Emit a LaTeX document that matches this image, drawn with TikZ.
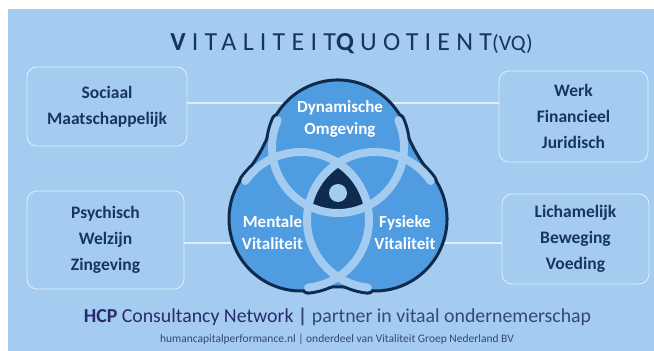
\documentclass[tikz,border=0pt]{standalone}
\usepackage{fontspec}
\setmainfont{Carlito}
\newfontfamily\titlefont[LetterSpace=24]{Carlito}
\definecolor{bgblue}{HTML}{A3CCF0}
\definecolor{lobe}{HTML}{4F9CE1}
\definecolor{ring}{HTML}{A3CCF0}
\definecolor{navy}{HTML}{0E2A4C}
\definecolor{txt}{HTML}{183460}
\definecolor{edge}{HTML}{DDEDFB}
\definecolor{hcp}{HTML}{2A2A6C}
\definecolor{slate}{HTML}{34496F}
\tikzset{
  sidebox/.style={draw=edge, line width=0.9pt, rounded corners=10pt, align=center,
    inner sep=0pt, text=txt, font=\fontsize{17.5}{26}\selectfont\bfseries},
  conn/.style={draw=edge, line width=1.1pt},
  bump/.style={draw=navy, line width=14pt, line cap=round},
  lightarc/.style={draw=ring, line width=8pt, line cap=round},
  vlabel/.style={text=white, align=center, inner sep=0pt, font=\fontsize{17}{22}\selectfont\bfseries}
}
\begin{document}
\begin{tikzpicture}[x=1pt, y=-1pt]
\useasboundingbox (0,0) rectangle (654,351);
\fill[white] (0,0) rectangle (654,351);
\fill[bgblue] (8,9) rectangle (654,351);

% side boxes
\node[sidebox, minimum width=160pt, minimum height=79pt] (lt) at (107,106.5) {Sociaal\\Maatschappelijk};
\node[sidebox, minimum width=157pt, minimum height=98pt] (lb) at (105.5,240) {Psychisch\\Welzijn\\Zingeving};
\node[sidebox, minimum width=149pt, minimum height=91pt] (rt) at (573.5,116.5) {Werk\\Financieel\\Juridisch};
\node[sidebox, minimum width=147pt, minimum height=90pt] (rb) at (575.5,239) {Lichamelijk\\Beweging\\Voeding};

% connectors (behind the venn)
\coordinate (ytop) at (338,103);
\coordinate (ybot) at (338,243);
\draw[conn] (lt.east |- ytop) -- (rt.west |- ytop);
\draw[conn] (lb.east |- ybot) -- (rb.west |- ybot);

% bumps around arc ends
\draw[bump] (338,147) ++(-24:66) arc[start angle=-24, end angle=204, radius=66];
\draw[bump] (301,220) ++(215:68) arc[start angle=215, end angle=444, radius=68];
\draw[bump] (375,220) ++(96:68) arc[start angle=96, end angle=325, radius=68];

% trefoil body
\path[fill=lobe, draw=navy, line width=3pt, line join=round]
  (274.3,118.4) arc[start angle=207.8, end angle=332.2, radius=72]
  .. controls (408.2,140.8) and (419.2,160.8) .. (434.5,178.4)
  arc[start angle=325.7, end angle=455.9, radius=72]
  .. controls (347.9,285.6) and (328.1,285.6) .. (308.4,290.6)
  arc[start angle=84.1, end angle=214.3, radius=72]
  .. controls (256.8,160.8) and (267.8,140.8) .. (274.3,118.4) -- cycle;

% dark centre
\begin{scope}
\clip (338,147) circle (66);
\clip (301,220) circle (68);
\fill[navy] (375,220) circle (68);
\end{scope}

% light rings
\draw[lightarc] (338,147) ++(-24:66) arc[start angle=-24, end angle=204, radius=66];
\draw[lightarc] (301,220) ++(215:68) arc[start angle=215, end angle=444, radius=68];
\draw[lightarc] (375,220) ++(96:68) arc[start angle=96, end angle=325, radius=68];
\fill[ring] (338,193) circle (9);

% venn labels
\node[vlabel] (dyn) at (340,119) {Dynamische\\Omgeving};
\node[vlabel] (men) at (272.5,233) {Mentale\\Vitaliteit};
\node[vlabel] (fys) at (405,233) {Fysieke\\Vitaliteit};

% title
\node[text=txt, inner sep=0pt, anchor=base] (title) at (351.5,50)
  {\fontsize{26}{30}\selectfont\titlefont{\bfseries V}\kern6.2pt ITALITEIT{\bfseries Q}\kern6.2pt UOTIENT\normalfont\fontsize{22}{26}\selectfont(VQ)};

% footer
\node[inner sep=0pt, anchor=base] (foot1) at (337.5,322)
  {\fontsize{19.8}{22}\selectfont{\color{hcp}\bfseries HCP} {\color{hcp}Consultancy Network} {\color{slate}\bfseries |} {\color{slate}partner in vitaal ondernemerschap}};
\node[inner sep=0pt, anchor=base, text=slate] (foot2) at (337,342)
  {\fontsize{11.5}{14}\selectfont humancapitalperformance.nl | onderdeel van Vitaliteit Groep Nederland BV};
\end{tikzpicture}
\end{document}
